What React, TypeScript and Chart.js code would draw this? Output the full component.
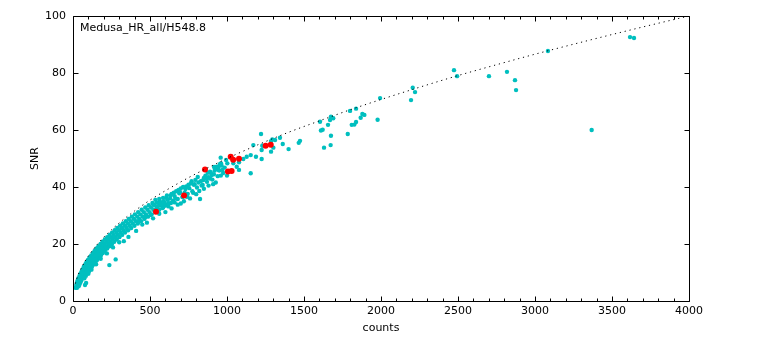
import React, { useEffect, useRef } from "react";
import { Chart, registerables } from "chart.js";

Chart.register(...registerables);

// Reference curve (dotted)
const curveCounts = [15, 25, 40, 60, 80, 100, 130, 160, 200, 250, 300, 400, 500, 600, 700, 800, 900, 1000, 1200, 1400, 1600, 1800, 2000, 2250, 2500, 2750, 3000, 3250, 3500, 3750, 4000];
const curveSNR = [6.1, 7.9, 10.0, 12.2, 14.1, 15.8, 18.0, 20.0, 22.4, 25.0, 27.4, 31.6, 35.4, 38.7, 41.8, 44.7, 47.4, 50.0, 54.8, 59.2, 63.2, 67.1, 70.7, 75.0, 79.1, 82.9, 86.6, 90.1, 93.5, 96.8, 100.0];

// Dense band of cyan points: one SNR row with its counts
const bandSNR = [4.6, 5.2, 5.8, 6.5, 7.2, 8.0, 8.8, 9.6, 10.4, 11.2, 12.0, 12.8, 13.6, 14.4, 15.2, 16.0, 16.8, 17.6, 18.4, 19.2, 20.0, 20.8, 21.6, 22.4, 23.2, 24.0, 24.8, 25.6, 26.4, 27.2, 28.0, 28.8, 29.6, 30.4, 31.2, 32.0, 32.8, 33.6, 34.4];
const bandCounts = [
  [18, 25], [21, 29, 37], [23, 32, 42], [26, 36, 48], [30, 41, 54],
  [35, 47, 61, 74], [42, 55, 69, 83], [48, 62, 77, 93], [56, 71, 88, 104], [63, 79, 96, 113],
  [70, 87, 105, 123], [79, 97, 115, 134], [87, 106, 125, 144], [97, 116, 136, 156], [107, 127, 148, 169],
  [118, 138, 159, 181], [129, 150, 172, 194], [140, 162, 185, 207], [152, 175, 199, 222], [165, 189, 213, 237],
  [179, 203, 228, 253], [192, 217, 242, 268], [207, 232, 258, 284], [222, 248, 274, 301], [238, 265, 292, 319],
  [254, 282, 310, 338], [271, 300, 329, 358], [288, 318, 348, 378], [306, 337, 368, 399], [324, 356, 388, 421],
  [343, 376, 409, 442], [362, 396, 430, 464], [382, 417, 452, 487], [402, 438, 474, 511], [423, 460, 497, 534],
  [446, 484, 522, 560], [469, 507, 546, 585], [492, 531, 570, 610], [516, 556, 596, 636],
];

// Ragged lower edge of the band
const cyanLowerEdge: [number, number][] = [
  [100, 9.6], [120, 11.0], [150, 12.9], [180, 14.8], [220, 16.7], [260, 18.8], [300, 20.6], [330, 21.0],
  [360, 22.5], [410, 24.6], [430, 28.0], [450, 26.8], [470, 29.5], [480, 27.5], [505, 30.2], [520, 29.0],
  [540, 32.0], [560, 30.6], [580, 32.6], [600, 31.2], [620, 33.2], [640, 32.5], [660, 34.6], [680, 33.8],
  [700, 34.2], [720, 35.0], [740, 36.6], [760, 36.0], [780, 38.0], [800, 37.5], [820, 38.6], [850, 39.4],
  [880, 40.5], [910, 41.0], [960, 44.0], [1000, 44.0],
];

// Scattered cyan points
const cyanScatter: [number, number][] = [
  [78, 5.6], [85, 6.3], [236, 12.6], [277, 14.6],
  [520, 34.0], [535, 35.5], [550, 33.2], [565, 34.9], [590, 35.0], [605, 36.2], [615, 35.5], [635, 37.0],
  [655, 38.0], [665, 36.0], [685, 39.0], [695, 38.2], [715, 40.0], [725, 38.0], [730, 39.3], [750, 40.8],
  [770, 42.0], [790, 41.0], [810, 43.5], [830, 42.0], [850, 43.2], [875, 45.0], [890, 43.0], [920, 45.8],
  [945, 47.2], [970, 46.0],
  [545, 34.6], [560, 35.8], [575, 34.0], [585, 36.2], [595, 33.4], [610, 37.0], [620, 34.3], [630, 36.0],
  [640, 37.6], [650, 35.2], [660, 36.8], [670, 38.5], [680, 35.8], [690, 37.8], [700, 39.5], [710, 36.5],
  [735, 40.2], [745, 37.6], [755, 39.6], [765, 41.2], [775, 38.5], [785, 40.8], [795, 42.5], [805, 39.8],
  [815, 41.6], [835, 40.5], [845, 42.4], [860, 44.0], [870, 41.8], [880, 43.4], [895, 45.0], [905, 42.6],
  [915, 44.5], [930, 46.4], [940, 43.8], [950, 45.8], [965, 47.5], [975, 44.9], [985, 46.8],
  [825, 35.8], [842, 40.7], [868, 43.0], [890, 45.4], [900, 44.2], [916, 47.0], [927, 41.6], [933, 47.1],
  [944, 46.0], [955, 48.1], [959, 50.3], [961, 48.3], [994, 49.5], [1002, 48.3], [1041, 48.3], [1063, 47.1],
  [1078, 48.7], [1078, 46.0], [1106, 49.8], [1128, 50.6], [1154, 51.2], [1154, 44.8], [1171, 54.7],
  [1188, 50.6], [1221, 58.6], [1225, 53.0], [1225, 49.8], [1229, 54.5], [1286, 56.1], [1294, 56.7],
  [1312, 56.5], [1286, 52.4], [1301, 53.8], [1344, 57.3], [1362, 55.1], [1400, 53.3], [1466, 55.5],
  [1474, 56.2], [1604, 62.9], [1610, 59.8], [1621, 60.1], [1630, 53.8], [1656, 61.8], [1669, 63.5],
  [1675, 64.7], [1690, 64.1], [1675, 58.0], [1673, 54.7], [1784, 58.6], [1799, 66.7], [1810, 61.8],
  [1827, 61.9], [1838, 62.8], [1838, 67.5], [1868, 64.3], [1879, 65.6], [1892, 65.3], [1978, 63.6],
  [1994, 71.2], [2195, 70.5], [2206, 74.8], [2221, 73.3], [2474, 81.0], [2494, 78.9], [2701, 78.9],
  [2818, 80.4], [2870, 77.5], [2877, 74.0], [3084, 87.7], [3368, 60.0], [3617, 92.6], [3643, 92.3],
];

// Red points
const redPoints: [number, number][] = [
  [539, 31.3], [721, 37.0], [857, 46.1], [1006, 45.4], [1030, 45.6],
  [1024, 50.6], [1040, 49.6], [1078, 49.9], [1251, 54.5], [1284, 54.8],
];

const xTickStep = 100;
const xMajorStep = 500;
const yTickStep = 20;
const annotation = "Medusa_HR_all/H548.8";
const xTitle = "counts";
const yTitle = "SNR";

const FONT = '"DejaVu Sans", "Liberation Sans", sans-serif';

const framePlugin = {
  id: "frame",
  afterDraw(chart: any) {
    const { ctx, chartArea: a, scales } = chart;
    ctx.save();
    ctx.strokeStyle = "#000";
    ctx.lineWidth = 1;
    const L = a.left + 0.5, R = a.right + 0.5, T = a.top + 0.5, B = a.bottom + 0.5;
    ctx.beginPath();
    ctx.rect(L, T, R - L, B - T);
    ctx.stroke();
    ctx.beginPath();
    const xs = scales.x;
    xs.ticks.forEach((t: any) => {
      const p = Math.round(xs.getPixelForValue(t.value)) + 0.5;
      const len = t.value % xMajorStep === 0 ? 5 : 3;
      ctx.moveTo(p, B);
      ctx.lineTo(p, B - len);
      ctx.moveTo(p, T);
      ctx.lineTo(p, T + len);
    });
    const ys = scales.y;
    ys.ticks.forEach((t: any) => {
      const p = Math.round(ys.getPixelForValue(t.value)) + 0.5;
      ctx.moveTo(L, p);
      ctx.lineTo(L + 5, p);
      ctx.moveTo(R, p);
      ctx.lineTo(R - 5, p);
    });
    ctx.stroke();
    ctx.fillStyle = "#000";
    ctx.font = "11px " + FONT;
    ctx.textAlign = "left";
    ctx.textBaseline = "middle";
    ctx.fillText(annotation, a.left + 7, a.top + 12);
    ctx.textAlign = "center";
    ctx.fillText(xTitle, (a.left + a.right) / 2, 328);
    ctx.save();
    ctx.translate(35, (a.top + a.bottom) / 2);
    ctx.rotate(-Math.PI / 2);
    ctx.fillText(yTitle, 0, 0);
    ctx.restore();
    ctx.restore();
  },
};

export default function App() {
  const ref = useRef<HTMLCanvasElement>(null);
  useEffect(() => {
    if (!ref.current) return;
    const bandPts: { x: number; y: number }[] = [];
    bandSNR.forEach((s, i) => bandCounts[i].forEach((c) => bandPts.push({ x: c, y: s })));
    const cyanPts = bandPts
      .concat(cyanLowerEdge.map(([x, y]) => ({ x, y })))
      .concat(cyanScatter.map(([x, y]) => ({ x, y })));
    const redPts = redPoints.map(([x, y]) => ({ x, y }));
    const curvePts = curveCounts.map((x, i) => ({ x, y: curveSNR[i] }));
    const chart = new Chart(ref.current, {
      type: "scatter",
      data: {
        datasets: [
          {
            type: "line",
            data: curvePts,
            showLine: true,
            borderColor: "#000",
            borderWidth: 1,
            borderDash: [1.2, 3.8],
            pointRadius: 0,
            fill: false,
            cubicInterpolationMode: "monotone",
            order: 0,
          } as any,
          {
            data: redPts,
            backgroundColor: "#ff0000",
            borderColor: "#ff0000",
            borderWidth: 0,
            pointRadius: 3,
            order: 1,
          },
          {
            data: cyanPts,
            backgroundColor: "#00bfbf",
            borderColor: "#00bfbf",
            borderWidth: 0,
            pointRadius: 2.2,
            order: 2,
          },
        ],
      },
      options: {
        animation: false,
        responsive: false,
        devicePixelRatio: 1,
        layout: { padding: { left: 0, right: 73, top: 16, bottom: 0 } },
        plugins: { legend: { display: false }, tooltip: { enabled: false } },
        scales: {
          x: {
            type: "linear",
            min: 0,
            max: 4000,
            grid: { display: false, drawTicks: false },
            border: { display: false },
            ticks: {
              stepSize: xTickStep,
              autoSkip: false,
              maxRotation: 0,
              padding: 4,
              color: "#000",
              font: { family: FONT, size: 11 },
              callback: (v: any) => (Number(v) % xMajorStep === 0 ? String(v) : ""),
            },
            afterFit: (s: any) => {
              s.height = 43;
            },
          },
          y: {
            type: "linear",
            min: 0,
            max: 100,
            grid: { display: false, drawTicks: false },
            border: { display: false },
            ticks: {
              stepSize: yTickStep,
              padding: 7,
              color: "#000",
              font: { family: FONT, size: 11 },
            },
            afterFit: (s: any) => {
              s.width = 73;
            },
          },
        },
      },
      plugins: [framePlugin],
    });
    return () => chart.destroy();
  }, []);
  return (
    <div style={{ position: "absolute", left: 0, top: 0, width: 762, height: 344, background: "#fff" }}>
      <canvas ref={ref} width={762} height={344} style={{ display: "block" }} />
    </div>
  );
}
